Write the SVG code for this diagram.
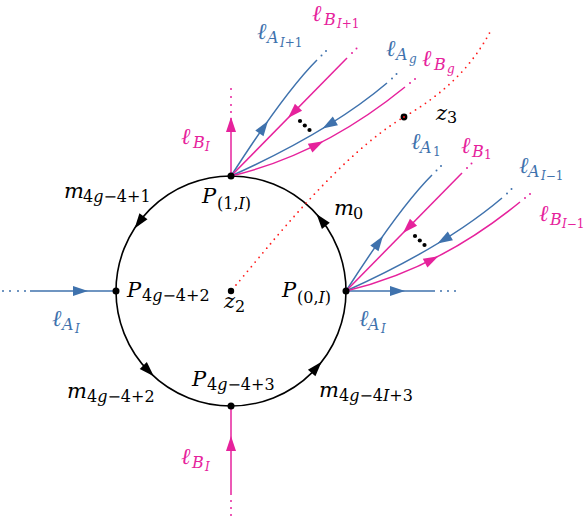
<svg xmlns="http://www.w3.org/2000/svg" width="587" height="517" viewBox="0 0 587 517">
<defs>
<path id="ah" d="M0,0 L-15,-5 L-15,5 Z"/>
</defs>
<style>
text{font-family:"DejaVu Serif","Liberation Serif",serif;font-size:21px}
.l{font-size:23px}
.s{font-size:16px}
.ss{font-size:12px}
.it{font-style:italic}
.b{fill:#3f72ad}
.m{fill:#e6229c}
.k{fill:#000}
.lb{stroke:#3f72ad;stroke-width:1.5;fill:none}
.lm{stroke:#e6229c;stroke-width:1.5;fill:none}
.red{stroke:#ff1a1a;stroke-width:1.8;fill:none;stroke-dasharray:0 6;stroke-linecap:round}
</style>
<rect width="587" height="517" fill="#fff"/>

<g id="connectors">
  <circle cx="231" cy="291" r="115" fill="none" stroke="#000" stroke-width="1.6"/>
  <g class="k">
    <use href="#ah" transform="translate(316.5,214.05) rotate(-128.5)"/>
    <use href="#ah" transform="translate(134.55,228.4) rotate(126.5)"/>
    <use href="#ah" transform="translate(153.8,376.2) rotate(45.5)"/>
    <use href="#ah" transform="translate(321.6,361.8) rotate(-48.5)"/>
  </g>
  <path class="red" d="M236,285 C270,245 340,155 404,117 C440,96 470,70 490,32"/>
  <line class="lm" x1="231" y1="176" x2="231" y2="118"/>
  <use href="#ah" class="m" transform="translate(231,117) rotate(-90)"/>
  <g class="m"><circle cx="231" cy="112" r="1"/><circle cx="231" cy="105" r="1"/><circle cx="231" cy="97" r="1"/><circle cx="231" cy="89" r="1"/></g>
  <line class="lm" x1="231" y1="406" x2="231" y2="495"/>
  <use href="#ah" class="m" transform="translate(231,436) rotate(-90)"/>
  <g class="m"><circle cx="231" cy="501" r="1"/><circle cx="231" cy="508" r="1"/><circle cx="231" cy="515" r="1"/></g>
  <line class="lb" x1="30" y1="291" x2="116" y2="291"/>
  <use href="#ah" class="b" transform="translate(88,291)"/>
  <g class="b"><circle cx="3" cy="291" r="1"/><circle cx="10" cy="291" r="1"/><circle cx="18" cy="291" r="1"/><circle cx="25" cy="291" r="1"/></g>
  <line class="lb" x1="346" y1="291" x2="435" y2="291"/>
  <use href="#ah" class="b" transform="translate(405,291)"/>
  <g class="b"><circle cx="441" cy="291" r="1"/><circle cx="448" cy="291" r="1"/><circle cx="455" cy="291" r="1"/></g>
  <g id="fan-top">
    <path class="lb" d="M231,176 Q284.6,92.4 317,60"/>
    <path class="lm" d="M231,176 L347,58"/>
    <path class="lb" d="M231,176 Q330,131.4 387,83"/>
    <path class="lm" d="M231,176 Q322,154.5 405,87"/>
    <use href="#ah" class="b" transform="translate(268,121) rotate(-55)"/>
    <use href="#ah" class="m" transform="translate(288,118) rotate(134.5)"/>
    <use href="#ah" class="b" transform="translate(322.5,128.6) rotate(149)"/>
    <use href="#ah" class="m" transform="translate(323.4,141.2) rotate(-27.6)"/>
    <g class="b"><circle cx="321.5" cy="55.5" r="1"/><circle cx="326" cy="51" r="1"/><circle cx="392" cy="78.5" r="1"/><circle cx="396.5" cy="74" r="1"/></g>
    <g class="m"><circle cx="352" cy="53" r="1"/><circle cx="356.5" cy="48.5" r="1"/><circle cx="410" cy="83" r="1"/><circle cx="415" cy="79" r="1"/></g>
    <g class="k"><circle cx="300" cy="121" r="2.1"/><circle cx="304.8" cy="125.5" r="2.1"/><circle cx="309.5" cy="130" r="2.1"/></g>
  </g>
  <g id="fan-right" transform="translate(115,115)">
    <path class="lb" d="M231,176 Q284.6,92.4 317,60"/>
    <path class="lm" d="M231,176 L347,58"/>
    <path class="lb" d="M231,176 Q330,131.4 387,83"/>
    <path class="lm" d="M231,176 Q322,154.5 405,87"/>
    <use href="#ah" class="b" transform="translate(268,121) rotate(-55)"/>
    <use href="#ah" class="m" transform="translate(288,118) rotate(134.5)"/>
    <use href="#ah" class="b" transform="translate(322.5,128.6) rotate(149)"/>
    <use href="#ah" class="m" transform="translate(323.4,141.2) rotate(-27.6)"/>
    <g class="b"><circle cx="321.5" cy="55.5" r="1"/><circle cx="326" cy="51" r="1"/><circle cx="392" cy="78.5" r="1"/><circle cx="396.5" cy="74" r="1"/></g>
    <g class="m"><circle cx="352" cy="53" r="1"/><circle cx="356.5" cy="48.5" r="1"/><circle cx="410" cy="83" r="1"/><circle cx="415" cy="79" r="1"/></g>
    <g class="k"><circle cx="300" cy="121" r="2.1"/><circle cx="304.8" cy="125.5" r="2.1"/><circle cx="309.5" cy="130" r="2.1"/></g>
  </g>
  <text class="m"><tspan class="l it" x="312" y="21">ℓ</tspan><tspan class="s it" x="324" y="25">B</tspan><tspan class="ss" x="337" y="28"><tspan class="it">I</tspan>+1</tspan></text>
  <text class="b"><tspan class="l it" x="257" y="39">ℓ</tspan><tspan class="s it" x="267" y="43">A</tspan><tspan class="ss" x="280" y="47"><tspan class="it">I</tspan>+1</tspan></text>
  <text class="b"><tspan class="l it" x="386" y="56">ℓ</tspan><tspan class="s it" x="396" y="60">A</tspan><tspan class="ss it" x="409" y="63">g</tspan></text>
  <text class="m"><tspan class="l it" x="422" y="66">ℓ</tspan><tspan class="s it" x="434" y="70">B</tspan><tspan class="ss it" x="447" y="73">g</tspan></text>
  <text class="m"><tspan class="l it" x="181" y="144">ℓ</tspan><tspan class="s it" x="193" y="148">B</tspan><tspan class="ss it" x="205" y="151">I</tspan></text>
  <text class="b"><tspan class="l it" x="411" y="149">ℓ</tspan><tspan class="s it" x="420" y="153">A</tspan><tspan class="ss" x="433" y="156">1</tspan></text>
  <text class="m"><tspan class="l it" x="461" y="153">ℓ</tspan><tspan class="s it" x="472" y="157">B</tspan><tspan class="ss" x="484" y="159">1</tspan></text>
  <text class="b"><tspan class="l it" x="519" y="173">ℓ</tspan><tspan class="s it" x="528" y="177">A</tspan><tspan class="ss" x="541" y="180"><tspan class="it">I</tspan>−1</tspan></text>
  <text class="m"><tspan class="l it" x="539" y="221">ℓ</tspan><tspan class="s it" x="550" y="225">B</tspan><tspan class="ss" x="562" y="228"><tspan class="it">I</tspan>−1</tspan></text>
  <text class="b"><tspan class="l it" x="359" y="326">ℓ</tspan><tspan class="s it" x="368" y="330">A</tspan><tspan class="ss it" x="381" y="333">I</tspan></text>
  <text class="b"><tspan class="l it" x="52" y="326">ℓ</tspan><tspan class="s it" x="62" y="330">A</tspan><tspan class="ss it" x="75" y="333">I</tspan></text>
  <text class="m"><tspan class="l it" x="181" y="464">ℓ</tspan><tspan class="s it" x="192" y="468">B</tspan><tspan class="ss it" x="205" y="471">I</tspan></text>
  <text class="k"><tspan class="it" x="64" y="198">m</tspan><tspan class="s" x="83" y="202">4<tspan class="it">g</tspan>−4+1</tspan></text>
  <text class="k"><tspan class="it" x="334" y="215">m</tspan><tspan class="s" x="353" y="219">0</tspan></text>
  <text class="k"><tspan class="it" x="67" y="398">m</tspan><tspan class="s" x="87" y="402">4<tspan class="it">g</tspan>−4+2</tspan></text>
  <text class="k"><tspan class="it" x="319" y="397">m</tspan><tspan class="s" x="339" y="401">4<tspan class="it">g</tspan>−4<tspan class="it">I</tspan>+3</tspan></text>
</g>

<g id="node-P1I">
  <circle cx="231" cy="176" r="3.5"/>
  <text class="k"><tspan class="it" x="202" y="203">P</tspan><tspan class="s" x="217" y="209">(1,<tspan class="it">I</tspan>)</tspan></text>
</g>
<g id="node-P0I">
  <circle cx="346" cy="291" r="3.5"/>
  <text class="k"><tspan class="it" x="282" y="297">P</tspan><tspan class="s" x="297" y="303">(0,<tspan class="it">I</tspan>)</tspan></text>
</g>
<g id="node-P2">
  <circle cx="116" cy="291" r="3.5"/>
  <text class="k"><tspan class="it" x="127" y="297">P</tspan><tspan class="s" x="142" y="301">4<tspan class="it">g</tspan>−4+2</tspan></text>
</g>
<g id="node-P3">
  <circle cx="231" cy="406" r="3.5"/>
  <text class="k"><tspan class="it" x="192" y="386">P</tspan><tspan class="s" x="207" y="390">4<tspan class="it">g</tspan>−4+3</tspan></text>
</g>
<g id="node-z2">
  <circle cx="231" cy="291" r="3.2"/>
  <text class="k"><tspan class="it" x="224" y="308">z</tspan><tspan class="s" x="235" y="312">2</tspan></text>
</g>
<g id="node-z3">
  <circle cx="404" cy="117" r="3.4"/>
  <circle cx="404" cy="117" r="1" fill="#ff1a1a"/>
  <text class="k"><tspan class="it" x="436" y="120">z</tspan><tspan class="s" x="447" y="123">3</tspan></text>
</g>
</svg>
